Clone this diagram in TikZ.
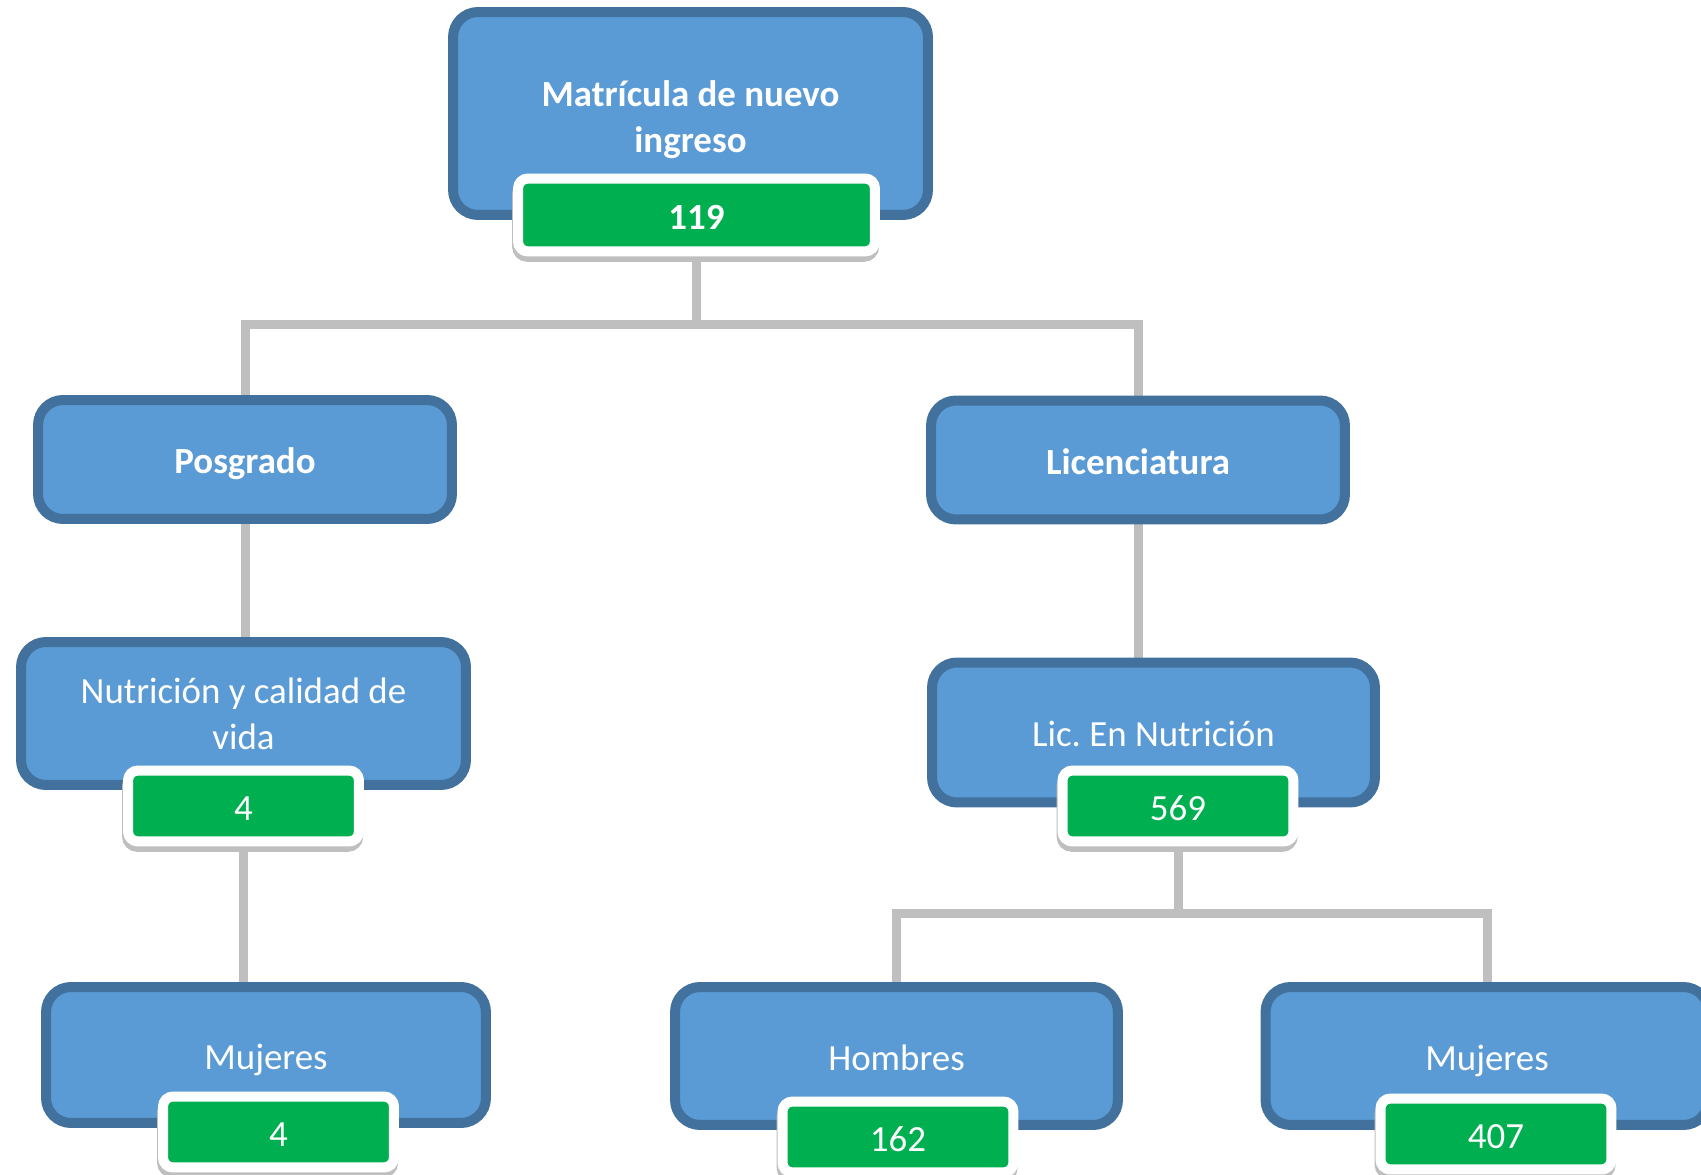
\documentclass[tikz,border=0pt]{standalone}
\usepackage{fontspec}
\setmainfont{Carlito}
\frenchspacing
\usetikzlibrary{backgrounds}
\definecolor{boxblue}{HTML}{5B9BD5}
\definecolor{boxline}{HTML}{41719C}
\definecolor{countgreen}{HTML}{00B050}
\definecolor{linkgray}{HTML}{BFBFBF}

\begin{document}
\begin{tikzpicture}[x=0.02cm, y=-0.02cm,
    unit/.style={draw=boxline, fill=boxblue, line width=0.2cm, rounded corners=0.5cm,
        text=white, align=center, inner sep=0pt, font=\fontsize{21}{26}\selectfont},
    oneline/.style={text height=21pt, text depth=5pt},
    count/.style={draw=white, fill=countgreen, line width=0.2cm, rounded corners=0.2cm,
        text=white, inner sep=0pt, minimum width=4.62cm, minimum height=1.42cm,
        font=\fontsize{21}{26}\selectfont, oneline,
        preaction={draw=black!25, fill=black!25, transform canvas={xshift=-0.5pt, yshift=-3pt}}},
    link/.style={draw=linkgray, line width=0.18cm,
        preaction={draw=black!35, transform canvas={xshift=1pt, yshift=-1.5pt}}}]
    \useasboundingbox (0,0) rectangle (1701,1175);

    % level 0
    \node[unit, font=\fontsize{21}{26}\selectfont\bfseries, minimum width=9.5cm, minimum height=4.06cm]
        (total) at (690.5,113.5) {\rule{0pt}{22pt}Matrícula de nuevo\\ingreso};
    \node[count, font=\fontsize{21}{26}\selectfont\bfseries, minimum width=7.14cm, minimum height=1.46cm]
        (totalN) at (696.5,215) {119};

    % level 1
    \node[unit, oneline, font=\fontsize{21}{26}\selectfont\bfseries, minimum width=8.28cm, minimum height=2.38cm]
        (posg) at (245,459.5) {Posgrado};
    \node[unit, oneline, font=\fontsize{21}{26}\selectfont\bfseries, minimum width=8.28cm, minimum height=2.38cm]
        (lic) at (1138,460) {Licenciatura};

    % level 2
    \node[unit, minimum width=8.9cm, minimum height=2.86cm]
        (nutVida) at (243.5,713.5) {Nutrición y calidad de\\vida};
    \node[count] (nutVidaN) at (243.5,806) {4};
    \node[unit, oneline, minimum width=8.86cm, minimum height=2.8cm]
        (licNut) at (1153.5,732.5) {Lic. En Nutrición};
    \node[count] (licNutN) at (1178,806) {569};

    % level 3
    \node[unit, oneline, minimum width=8.8cm, minimum height=2.72cm]
        (posgMuj) at (266,1055) {Mujeres};
    \node[count] (posgMujN) at (278.5,1132) {4};
    \node[unit, oneline, minimum width=8.86cm, minimum height=2.76cm]
        (licHom) at (896.5,1056) {Hombres};
    \node[count] (licHomN) at (898,1137) {162};
    \node[unit, oneline, minimum width=8.86cm, minimum height=2.76cm]
        (licMuj) at (1487,1056) {Mujeres};
    \node[count] (licMujN) at (1496,1134) {407};

    \coordinate (fork0) at (702,325);
    \coordinate (fork1) at (1184,913);

    \begin{scope}[on background layer]
        \draw[link] (totalN.south) -- (totalN.south |- fork0);
        \draw[link] (posg.north) |- (fork0) -| (lic.north);
        \draw[link] (posg.south) -- (posg.south |- nutVida.north);
        \draw[link] (nutVidaN.south) -- (nutVidaN.south |- posgMuj.north);
        \draw[link] (lic.south) -- (lic.south |- licNut.north);
        \draw[link] (licNutN.south) -- (licNutN.south |- fork1);
        \draw[link] (licHom.north) |- (fork1) -| (licMuj.north);
    \end{scope}
\end{tikzpicture}
\end{document}
